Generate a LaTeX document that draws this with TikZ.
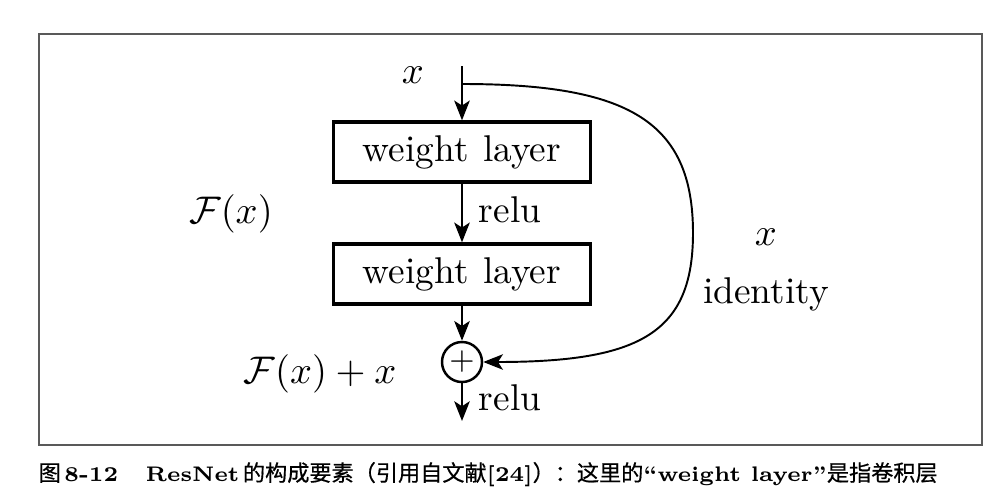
\documentclass[tikz,border=0pt]{standalone}
\usepackage{amsmath, amssymb}
\usepackage{fontspec}
\newfontfamily\cjkfont[FakeBold=0.6]{Noto Sans CJK SC}
\usepackage{tikz}
\usetikzlibrary{
  arrows.meta,%
  calc,%
  positioning
}
\tikzset{>={Stealth[length=5.6pt,width=4.4pt,inset=1.4pt]}}
\tikzset{font=\fontsize{10.6}{13}\selectfont}
\tikzset{
  layerbox/.style={draw, line width=0.95pt, rectangle, minimum width=2.57cm,
    minimum height=0.6cm, inner sep=0pt},
  sumnode/.style={draw, line width=0.7pt, circle, minimum size=0.4cm,
    inner sep=0pt, font=\small},
  flow/.style={->, line width=0.7pt},
  skip/.style={->, line width=0.55pt}
}
\newcommand{\zh}[1]{{\fontsize{6.3}{7.5}\selectfont\cjkfont #1}}

\begin{document}
\begin{tikzpicture}[x=0.01cm, y=0.01cm]
  \useasboundingbox (0,0) rectangle (1002,493);
  % frame round the figure
  \draw[line width=0.6pt, black!65] (39,48) rectangle (982,459);

  % the block
  \coordinate (in) at (462,427);
  \coordinate (split) at (462,409);
  \coordinate (out) at (462,72);
  \coordinate (far) at (693,260);
  \node[layerbox] (w1) at (462,341) {weight\hspace{0.4em}layer};
  \node[layerbox] (w2) at (462,219) {weight\hspace{0.4em}layer};
  \node[sumnode] (sum) at (462,131) {$+$};

  \draw[flow] (in) -- (w1);
  \draw[flow] (w1) -- (w2);
  \draw[flow] (w2) -- (sum);
  \draw[flow] (sum) -- (out);
  % identity shortcut
  \draw[skip] (split) .. controls (628,409) and (693,372) .. (far)
    .. controls (693,160) and (640,131) .. (sum.east);

  % labels
  \node (xin) at (413,418) {$x$};
  \node (relu1) at (510,283) {relu};
  \node (relu2) at (510,95) {relu};
  \node (fx) at (231,279) {$\mathcal{F}(x)$};
  \node (fxx) at (320,119) {$\mathcal{F}(x) + x$};
  \node (xid) at (766,256) {$x$};
  \node (ident) at (766,199) {identity};

  % caption
  \node[anchor=base west, inner sep=0pt, font=\fontsize{6}{7.5}\selectfont]
    (cap) at (38,12) {\zh{图}\,\textbf{8-12}\hspace{1.3em}\textbf{ResNet}\,\zh{的构成要素（引用自文献}\textbf{[24]}\zh{）：这里的}\textbf{``weight layer''}\zh{是指卷积层}};
\end{tikzpicture}
\end{document}
